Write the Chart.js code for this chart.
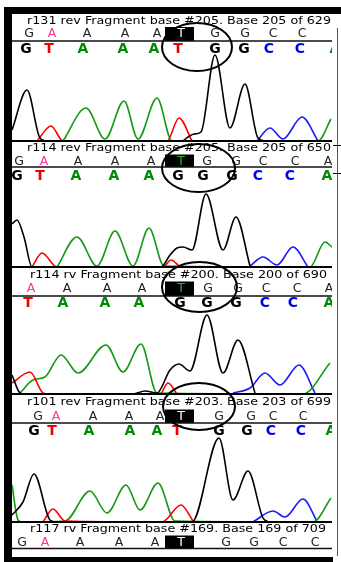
<!DOCTYPE html>
<html>
<head>
<meta charset="utf-8">
<script src="https://cdn.jsdelivr.net/npm/chart.js@4.4.1/dist/chart.umd.min.js"></script>
<style>
  body { margin: 0; background: #fff; }
  #wrap { position: relative; width: 341px; height: 562px; overflow: hidden; background: #fff; }
  #wrap div { position: absolute; background: #000; }
  #wrap canvas { position: absolute; left: 0; }
</style>
</head>
<body>
<div id="wrap">
  <div style="left:4px;top:7px;width:337px;height:7px"></div>
  <div style="left:4px;top:7px;width:8px;height:555px"></div>
  <div style="left:4px;top:557px;width:329px;height:5px"></div>
  <div style="left:337px;top:28px;width:1px;height:528px;background:#555"></div>
  <div style="left:333px;top:145px;width:8px;height:1px"></div>
  <div style="left:333px;top:173px;width:8px;height:1px"></div>
</div>
<script>
// titles of the five reads
const titles = [
  'r131 rev Fragment base #205. Base 205 of 629',
  'r114 rev Fragment base #205. Base 205 of 650',
  'r114 rv Fragment base #200. Base 200 of 690',
  'r101 rev Fragment base #203. Base 203 of 699',
  'r117 rv Fragment base #169. Base 169 of 709'
];
const titleSpan = [[27, 331], [27, 331], [30, 327], [27, 331], [30, 326]];

// reference (thin) base row and its scan positions
const calledBases = ['GAAAATGGCC', 'GAAAATGGCCA', 'AAAATGGCCA', 'GAAAATGGCC', 'GAAAATGGCC'];
const calledX = [
  [29, 52, 87, 125, 157, 181, 215, 245, 273, 302],
  [19, 44, 78, 115, 151, 181, 207, 236, 263, 295, 328],
  [31, 67, 107, 142, 181, 208, 238, 266, 297, 329],
  [38, 56, 93, 129, 160, 181, 219, 251, 273, 303],
  [22, 45, 80, 119, 155, 181, 226, 254, 283, 315]
];

// base calls (bold row)
const editedBases = ['GTAAATGGCCA', 'GTAAAGGGCCA', 'TAAAGGGCCA', 'GTAAATGGCCA'];
const editedX = [
  [26, 49, 83, 123, 154, 178, 215, 244, 269, 300, 335],
  [17, 40, 76, 114, 149, 178, 203, 232, 258, 290, 327],
  [28, 63, 105, 139, 180, 207, 236, 265, 293, 329],
  [34, 52, 89, 130, 157, 177, 219, 247, 271, 301, 331]
];

// traces: [scan, signal]
const p1Black = [[12,11],[27,51],[40,3],[47,0],[182,0],[188,4],[194,7],[201,9],[215,86],[230,13],[245,57],[258,3],[266,0]];
const p1Red   = [[37,0],[51,15],[63,0],[167,0],[179,23],[192,0]];
const p1Green = [[63,0],[86,33],[105,2],[124,40],[138,2],[157,43],[172,0],[318,0],[331,22]];
const p1Blue  = [[257,0],[270,13],[283,2],[302,24],[318,0]];

const p2Black = [[12,43],[17,47],[24,30],[32,0],[161,0],[170,12],[177,19],[183,20],[192,17],[206,73],[223,17],[236,50],[250,1]];
const p2Red   = [[32,0],[42,14],[57,0],[163,0],[171,7],[180,0]];
const p2Green = [[57,0],[77,30],[97,1],[115,36],[133,1],[149,39],[164,1],[310,0],[325,25],[332,20]];
const p2Blue  = [[250,1],[263,10],[277,2],[293,20],[308,0]];

const p3Black = [[12,19],[20,1],[24,0],[133,0],[145,3],[157,1],[170,24],[179,30],[190,23],[207,79],[223,21],[238,54],[255,1]];
const p3Red   = [[12,11],[30,22],[43,1],[48,0],[160,0],[168,11],[177,0]];
const p3Green = [[20,1],[33,14],[45,17],[61,39],[78,21],[106,49],[123,22],[141,50],[157,1],[303,0],[330,31]];
const p3Blue  = [[233,1],[250,6],[265,21],[280,9],[299,29],[315,1]];

const p4Black = [[12,7],[23,20],[34,48],[50,2],[56,0],[192,0],[219,84],[233,22],[248,51],[263,4],[269,0]];
const p4Red   = [[43,0],[53,13],[65,1],[162,0],[181,17],[193,1]];
const p4Green = [[12,37],[18,2],[22,0],[65,1],[90,31],[107,9],[126,37],[140,12],[158,39],[175,1],[313,0],[331,24]];
const p4Blue  = [[253,0],[273,11],[285,5],[303,23],[317,1]];

const traces = [
  [p1Black, p1Red, p1Green, p1Blue],
  [p2Black, p2Red, p2Green, p2Blue],
  [p3Black, p3Red, p3Green, p3Blue],
  [p4Black, p4Red, p4Green, p4Blue],
  []
];

const traceColors = ['#000000', '#ff0000', '#119911', '#1a1aff'];
const baseColor = { G: '#000000', T: '#ee0000', A: '#008a00', C: '#0000ee' };

// layout of each panel (page pixels)
const panels = [
  { top: 0,   titleY: 21,    calledY: 33.5, ruleY: 41,    boldY: 48.5,  traceTop: 52,  baseline: 141, box: 5, pink: 1, boxText: '#fff',    ellipse: [197, 47, 35, 24] },
  { top: 126, titleY: 148.5, calledY: 161,  ruleY: 167,   boldY: 175.5, traceTop: 182, baseline: 267, box: 5, pink: 1, boxText: '#22bb22', ellipse: [198.5, 168, 36.5, 24] },
  { top: 253, titleY: 275,   calledY: 288,  ruleY: 296,   boldY: 303,   traceTop: 309, baseline: 394, box: 4, pink: 0, boxText: '#22bb22', ellipse: [199.5, 287, 37.5, 25] },
  { top: 379, titleY: 402,   calledY: 416,  ruleY: 423,   boldY: 430.5, traceTop: 436, baseline: 522, box: 5, pink: 1, boxText: '#fff',    ellipse: [199, 406.5, 36, 23.5] },
  { top: 507, titleY: 529,   calledY: 542,  ruleY: 548.5, boldY: null,  traceTop: 550, baseline: 556, box: 5, pink: 1, boxText: '#fff',    ellipse: null }
];

function headerPlugin(i) {
  const p = panels[i];
  return {
    id: 'header' + i,
    afterDatasetsDraw(chart) {
      const ctx = chart.ctx, xs = chart.scales.x, t = p.top;
      ctx.save();
      if (i < 4) {
        ctx.fillStyle = '#000';
        ctx.fillRect(12, p.baseline - t - 1, 320, 2);
      }
      ctx.beginPath();
      ctx.rect(12, 0, 320, chart.height);
      ctx.clip();

      // title, stretched to its span
      ctx.fillStyle = '#000';
      ctx.textBaseline = 'middle';
      ctx.textAlign = 'left';
      ctx.font = '10.5px "DejaVu Sans"';
      const w = ctx.measureText(titles[i]).width;
      const x0 = xs.getPixelForValue(titleSpan[i][0]);
      const x1 = xs.getPixelForValue(titleSpan[i][1]);
      ctx.save();
      ctx.translate(x0, p.titleY - t);
      ctx.scale((x1 - x0) / w, 1);
      ctx.fillText(titles[i], 0, 0);
      ctx.restore();

      // reference bases
      ctx.textAlign = 'center';
      ctx.font = '12.5px "DejaVu Sans"';
      calledBases[i].split('').forEach((b, k) => {
        const x = xs.getPixelForValue(calledX[i][k]);
        let col = '#222';
        if (k === p.box) {
          ctx.fillStyle = '#000';
          ctx.fillRect(x - 16, p.calledY - t - 6.5, 29, p.ruleY - p.calledY + 6.5);
          col = p.boxText;
        } else if (k === p.pink) {
          col = '#ff3399';
        }
        ctx.fillStyle = col;
        ctx.fillText(b, x, p.calledY - t + 0.5);
      });

      ctx.fillStyle = '#111';
      ctx.fillRect(12, p.ruleY - t - 0.75, 320, 1.5);

      // called bases
      if (p.boldY) {
        ctx.font = 'bold 14px "DejaVu Sans"';
        editedBases[i].split('').forEach((b, k) => {
          ctx.fillStyle = baseColor[b];
          ctx.fillText(b, xs.getPixelForValue(editedX[i][k]), p.boldY - t + 0.5);
        });
      }
      ctx.restore();

      if (p.ellipse) {
        const [cx, cy, rx, ry] = p.ellipse;
        ctx.save();
        ctx.strokeStyle = '#000';
        ctx.lineWidth = 2;
        ctx.beginPath();
        ctx.ellipse(xs.getPixelForValue(cx), cy - t, rx, ry, 0, 0, Math.PI * 2);
        ctx.stroke();
        ctx.restore();
      }
    }
  };
}

const wrap = document.getElementById('wrap');
panels.forEach((p, i) => {
  const bottom = i < 4 ? p.baseline + 3 : 562;
  const h = bottom - p.top;
  const cv = document.createElement('canvas');
  cv.width = 341;
  cv.height = h;
  cv.style.top = p.top + 'px';
  cv.style.width = '341px';
  cv.style.height = h + 'px';
  wrap.appendChild(cv);

  new Chart(cv.getContext('2d'), {
    type: 'line',
    data: {
      datasets: traces[i].map((d, k) => ({
        data: d.map(([x, y]) => ({ x, y })),
        borderColor: traceColors[k],
        borderWidth: 1.6,
        pointRadius: 0,
        fill: false,
        cubicInterpolationMode: 'monotone'
      }))
    },
    options: {
      responsive: false,
      animation: false,
      events: [],
      layout: { padding: { left: 12, right: 9, top: p.traceTop - p.top, bottom: bottom - p.baseline } },
      scales: {
        x: { type: 'linear', min: 12, max: 332, display: false },
        y: { min: 0, max: p.baseline - p.traceTop, display: false }
      },
      plugins: { legend: { display: false }, tooltip: { enabled: false } }
    },
    plugins: [headerPlugin(i)]
  });
});
</script>
</body>
</html>
